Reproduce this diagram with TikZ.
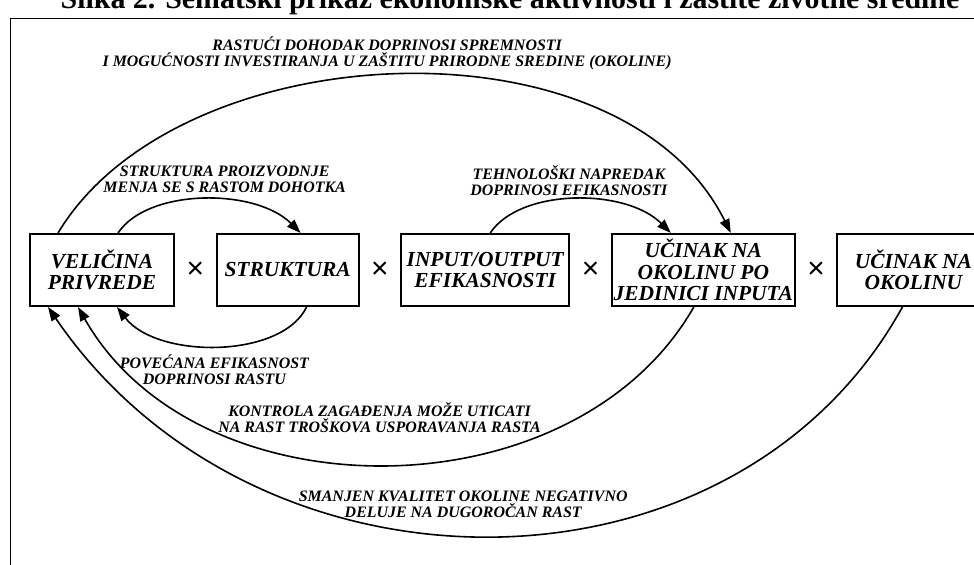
\documentclass[tikz,border=0pt]{standalone}
\usepackage{fontspec}
\setmainfont{Liberation Serif}
\newfontfamily\crossfont{Liberation Sans}
\usetikzlibrary{arrows.meta, chains, positioning}

\begin{document}
\begin{tikzpicture}[
   x=1bp, y=-1bp,
   start chain = going right,
   node distance = 0bp,
   -{Triangle[length=14bp, width=10bp]},
   line width = 1.6bp,
   factor/.style = {draw, line width=2bp, minimum height=72bp, inner sep=1bp, align=center,
      font=\bfseries\itshape\fontsize{21.5}{21.5}\selectfont},
   op/.style = {minimum width=39bp, inner sep=0pt, font=\crossfont\fontsize{30}{30}\selectfont},
   note/.style = {align=center, inner sep=0pt, font=\bfseries\itshape\fontsize{16}{16}\selectfont}]
   \useasboundingbox (0,0) rectangle (974,565);
   \node[anchor=base, font=\bfseries\fontsize{30}{30}\selectfont] (title) at (510,9)
      {Slika 2. Šematski prikaz ekonomske aktivnosti i zaštite životne sredine};
   \draw[-, line width=0.8bp] (10,565) -- (10,18) -- (974,18);

   \node[factor, on chain, anchor=north west, minimum width=144bp] (size) at (29,233) {VELIČINA\\PRIVREDE};
   \node[op, on chain] (x1) {×};
   \node[factor, on chain, minimum width=142bp] (struct) {STRUKTURA};
   \node[op, on chain] (x2) {×};
   \node[factor, on chain, minimum width=168bp] (io) {INPUT/OUTPUT\\EFIKASNOSTI};
   \node[op, on chain] (x3) {×};
   \node[factor, on chain, minimum width=183bp] (unit) {UČINAK NA\\OKOLINU PO\\JEDINICI INPUTA};
   \node[op, on chain] (x4) {×};
   \node[factor, on chain, minimum width=152bp] (impact) {UČINAK NA\\OKOLINU};

   % upper loops
   \draw ([xshift=29bp]size.north west) .. controls +(120,-200) and +(-110,-221) .. ([xshift=120bp]unit.north west)
      node[note, midway, xshift=-11bp, yshift=22bp] (lincome) {RASTUĆI DOHODAK DOPRINOSI SPREMNOSTI\\I MOGUĆNOSTI INVESTIRANJA U ZAŠTITU PRIRODNE SREDINE (OKOLINE)};
   \draw ([xshift=89bp]size.north west) .. controls +(30,-45) and +(-45,-45) .. ([xshift=85bp]struct.north west)
      node[note, midway, xshift=21bp, yshift=20bp] (lstruct) {STRUKTURA PROIZVODNJE\\MENJA SE S RASTOM DOHOTKA};
   \draw ([xshift=90bp]io.north west) .. controls +(30,-45) and +(-45,-45) .. ([xshift=60bp]unit.north west)
      node[note, midway, xshift=-6bp, yshift=19bp] (ltech) {TEHNOLOŠKI NAPREDAK\\DOPRINOSI EFIKASNOSTI};

   % lower loops
   \draw ([xshift=91bp]struct.south west) .. controls +(-25,52) and +(40,52) .. ([xshift=88bp]size.south west)
      node[note, midway, xshift=-3bp, yshift=-24bp] (leff) {POVEĆANA EFIKASNOST\\DOPRINOSI RASTU};
   \draw ([xshift=83bp]unit.south west) .. controls +(-120,210) and +(119,210) .. ([xshift=49bp]size.south west)
      node[note, midway, xshift=-6bp, yshift=47bp] (lcontrol) {KONTROLA ZAGAĐENJA MOŽE UTICATI\\NA RAST TROŠKOVA USPORAVANJA RASTA};
   \draw ([xshift=66bp]impact.south west) .. controls +(-168,305) and +(208,305) .. ([xshift=19bp]size.south west)
      node[note, midway, xshift=-27bp, yshift=31bp] (lquality) {SMANJEN KVALITET OKOLINE NEGATIVNO\\DELUJE NA DUGOROČAN RAST};
\end{tikzpicture}
\end{document}
